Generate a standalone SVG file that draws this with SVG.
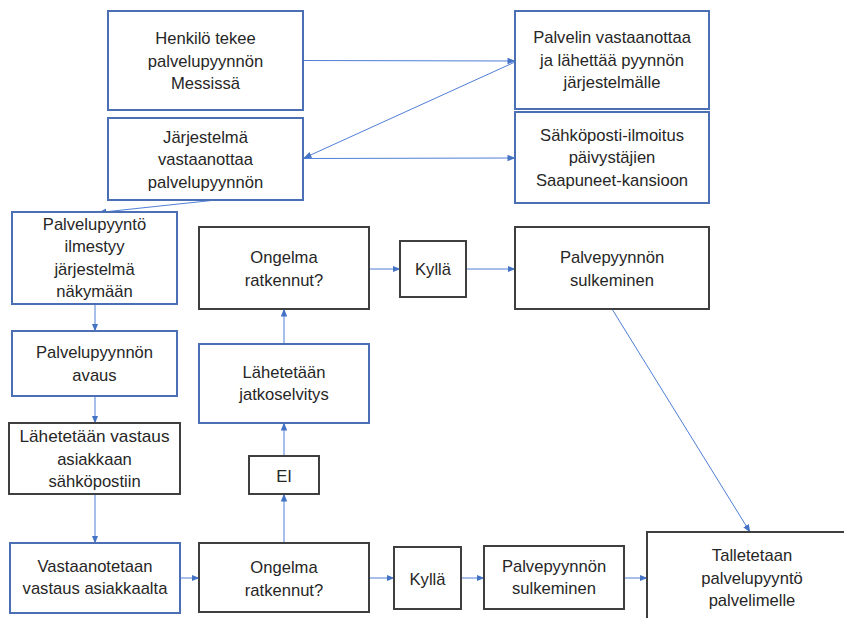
<svg xmlns="http://www.w3.org/2000/svg" width="844" height="618" viewBox="0 0 844 618">
<style>
  .blue{fill:#fff;stroke:#4a6fb5;stroke-width:2}
  .dark{fill:#fff;stroke:#3f3f3f;stroke-width:2}
  text{font-family:"Liberation Sans",Arial,sans-serif;font-size:16.6px;fill:#262626;text-anchor:middle}
  .con line{stroke:#4f7fd6;stroke-width:1;fill:none}
</style>
<defs>
  <marker id="ah" markerUnits="userSpaceOnUse" markerWidth="8" markerHeight="8" viewBox="0 0 8 8" refX="7.5" refY="4" orient="auto">
    <path d="M0,0.8 L8,4 L0,7.2 Z" fill="#4472c4"/>
  </marker>
</defs>
<rect width="844" height="618" fill="#fff"/>

<g id="connectors" class="con">
  <line x1="303" y1="60.5" x2="515" y2="61" marker-end="url(#ah)"/>
  <line x1="515" y1="62" x2="304" y2="158" marker-end="url(#ah)"/>
  <line x1="303" y1="158.5" x2="515" y2="158" marker-end="url(#ah)"/>
  <line x1="216" y1="200" x2="99" y2="212.5" marker-end="url(#ah)"/>
  <line x1="95" y1="304" x2="95" y2="331" marker-end="url(#ah)"/>
  <line x1="95" y1="396" x2="95" y2="423" marker-end="url(#ah)"/>
  <line x1="95" y1="494" x2="95" y2="543" marker-end="url(#ah)"/>
  <line x1="180" y1="578" x2="199" y2="578" marker-end="url(#ah)"/>
  <line x1="369" y1="578" x2="394" y2="578" marker-end="url(#ah)"/>
  <line x1="461" y1="578" x2="484" y2="578" marker-end="url(#ah)"/>
  <line x1="624" y1="578" x2="647" y2="578" marker-end="url(#ah)"/>
  <line x1="284" y1="543" x2="284" y2="494" marker-end="url(#ah)"/>
  <line x1="284" y1="456" x2="284" y2="423" marker-end="url(#ah)"/>
  <line x1="284" y1="344" x2="284" y2="309" marker-end="url(#ah)"/>
  <line x1="369" y1="269" x2="400" y2="269" marker-end="url(#ah)"/>
  <line x1="466" y1="269" x2="515" y2="269" marker-end="url(#ah)"/>
  <line x1="612" y1="309" x2="750" y2="532" marker-end="url(#ah)"/>
</g>

<g id="n1">
  <rect class="blue" x="108" y="11" width="195" height="99"/>
  <text x="205.5" y="44">Henkilö tekee</text>
  <text x="205.5" y="66.5">palvelupyynnön</text>
  <text x="205.5" y="89">Messissä</text>
</g>
<g id="n2">
  <rect class="blue" x="108" y="118" width="195" height="82"/>
  <text x="205.5" y="142.5">Järjestelmä</text>
  <text x="205.5" y="165">vastaanottaa</text>
  <text x="205.5" y="187.5">palvelupyynnön</text>
</g>
<g id="n3">
  <rect class="blue" x="515" y="11" width="194" height="98"/>
  <text x="612" y="43">Palvelin vastaanottaa</text>
  <text x="612" y="65.5">ja lähettää pyynnön</text>
  <text x="612" y="88">järjestelmälle</text>
</g>
<g id="n4">
  <rect class="blue" x="515" y="112" width="194" height="91"/>
  <text x="612" y="140.5">Sähköposti-ilmoitus</text>
  <text x="612" y="163">päivystäjien</text>
  <text x="612" y="185.5">Saapuneet-kansioon</text>
</g>
<g id="n5">
  <rect class="blue" x="12" y="212" width="165" height="92"/>
  <text x="94.5" y="229.5">Palvelupyyntö</text>
  <text x="94.5" y="252">ilmestyy</text>
  <text x="94.5" y="274.5">järjestelmä</text>
  <text x="94.5" y="297">näkymään</text>
</g>
<g id="n6">
  <rect class="blue" x="12" y="331" width="165" height="65"/>
  <text x="94.5" y="358">Palvelupyynnön</text>
  <text x="94.5" y="380.5">avaus</text>
</g>
<g id="n7">
  <rect class="dark" x="9" y="423" width="171" height="71"/>
  <text x="94.5" y="442" textLength="150" lengthAdjust="spacingAndGlyphs">Lähetetään vastaus</text>
  <text x="94.5" y="464.5">asiakkaan</text>
  <text x="94.5" y="487">sähköpostiin</text>
</g>
<g id="n8">
  <rect class="blue" x="10" y="543" width="170" height="70"/>
  <text x="95" y="571.5">Vastaanotetaan</text>
  <text x="95" y="594">vastaus asiakkaalta</text>
</g>
<g id="n9">
  <rect class="dark" x="199" y="227" width="170" height="82"/>
  <text x="284" y="263">Ongelma</text>
  <text x="284" y="285.5">ratkennut?</text>
</g>
<g id="n10">
  <rect class="blue" x="199" y="344" width="170" height="79"/>
  <text x="284" y="377.5">Lähetetään</text>
  <text x="284" y="400">jatkoselvitys</text>
</g>
<g id="n11">
  <rect class="dark" x="249" y="456" width="70" height="38"/>
  <text x="284" y="481.5">EI</text>
</g>
<g id="n12">
  <rect class="dark" x="199" y="543" width="170" height="69"/>
  <text x="284" y="573">Ongelma</text>
  <text x="284" y="595.5">ratkennut?</text>
</g>
<g id="n13">
  <rect class="dark" x="400" y="241" width="66" height="56"/>
  <text x="433" y="274.5">Kyllä</text>
</g>
<g id="n14">
  <rect class="dark" x="515" y="227" width="194" height="82"/>
  <text x="612" y="263">Palvepyynnön</text>
  <text x="612" y="285.5">sulkeminen</text>
</g>
<g id="n15">
  <rect class="dark" x="394" y="547" width="67" height="62"/>
  <text x="427.5" y="584.5">Kyllä</text>
</g>
<g id="n16">
  <rect class="dark" x="484" y="546" width="140" height="63"/>
  <text x="554" y="571.5">Palvepyynnön</text>
  <text x="554" y="594">sulkeminen</text>
</g>
<g id="n17">
  <rect class="dark" x="647" y="532" width="210" height="100"/>
  <text x="752" y="561">Talletetaan</text>
  <text x="752" y="583.5">palvelupyyntö</text>
  <text x="752" y="606">palvelimelle</text>
</g>
</svg>
